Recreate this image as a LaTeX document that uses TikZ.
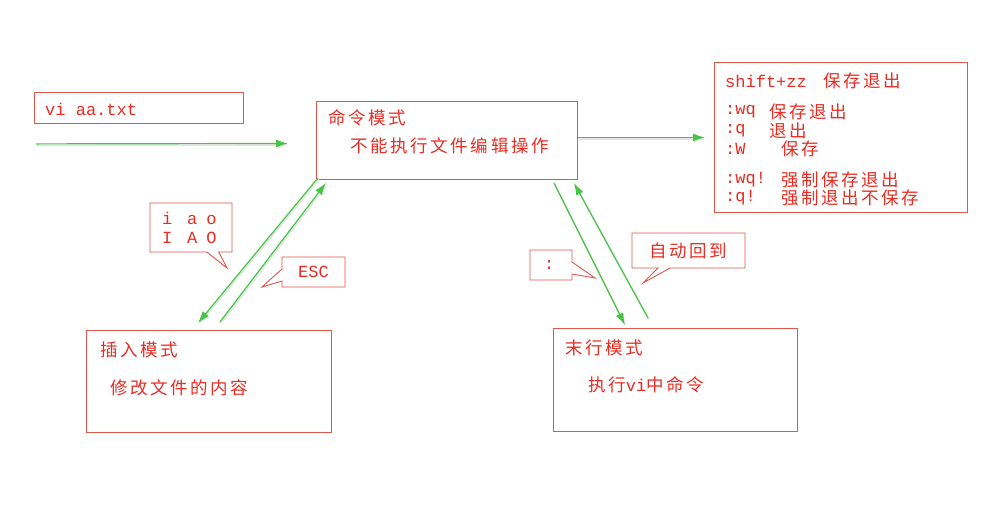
\documentclass[tikz,border=0pt]{standalone}
\usepackage{fontspec}
\setmainfont{Noto Sans CJK SC}[LetterSpace=15]
\setmonofont{Liberation Mono}
\usepackage{tikz}
\usetikzlibrary{arrows.meta,shapes.callouts}

\definecolor{boxred}{RGB}{226,86,76}
\definecolor{textred}{RGB}{232,44,34}
\definecolor{arrowgreen}{RGB}{70,196,70}

\tikzset{
  redbox/.style={draw=boxred,line width=0.9pt,inner sep=0pt,anchor=north west},
  cjk/.style={text=textred,inner sep=0pt,anchor=west,font=\fontsize{17.5}{20}\selectfont},
  code/.style={text=textred,inner sep=0pt,anchor=west,font=\fontsize{17}{19}\selectfont\ttfamily},
  bubble/.style={rectangle callout,draw=boxred,line width=0.9pt,fill=white,
    callout pointer width=12pt,text=textred},
  greenarrow/.style={draw=arrowgreen,line width=1.2pt,-{Latex[length=12pt,width=8pt]},
    preaction={draw=black!10,line width=1.6pt,transform canvas={shift={(1pt,-1.5pt)}}}}
}

\begin{document}
\begin{tikzpicture}[x=1pt,y=-1pt]

\useasboundingbox[fill=white] (0,0) rectangle (996,507);

% boxes
\node[redbox,minimum width=209pt,minimum height=31pt] (vibox) at (34,92) {};
\node[redbox,minimum width=261pt,minimum height=78pt] (cmd) at (316,101) {};
\node[redbox,minimum width=253pt,minimum height=150pt] (rules) at (714,62) {};
\node[redbox,minimum width=245pt,minimum height=102pt] (ins) at (86,330) {};
\node[redbox,minimum width=244pt,minimum height=103pt] (last) at (553,328) {};

\node[code] (vitxt) at ([shift={(11,1)}]vibox.west) {vi aa.txt};

\node[cjk] (cmdtitle) at ([shift={(12,17)}]cmd.north west) {命令模式};
\node[cjk] (cmdtext) at ([shift={(34,45)}]cmd.north west) {不能执行文件编辑操作};

\node[cjk] (institle) at ([shift={(14,20)}]ins.north west) {插入模式};
\node[cjk] (instext) at ([shift={(24,58)}]ins.north west) {修改文件的内容};

\node[cjk] (lasttitle) at ([shift={(12,20)}]last.north west) {末行模式};
\node[cjk] (lasttext) at ([shift={(35,57)}]last.north west) {执行{\ttfamily\fontsize{17}{19}\selectfont vi}中命令};

% save and quit commands
\node[code] (zz) at ([shift={(11,19)}]rules.north west) {shift+zz};
\node[cjk] (zztxt) at ([shift={(109,19)}]rules.north west) {保存退出};
\node[code] (wq) at ([shift={(11,50)}]rules.north west) {:wq};
\node[cjk] (wqtxt) at ([shift={(55,50)}]rules.north west) {保存退出};
\node[code] (q) at ([shift={(11,69)}]rules.north west) {:q};
\node[cjk] (qtxt) at ([shift={(55,69)}]rules.north west) {退出};
\node[code] (w) at ([shift={(11,87)}]rules.north west) {:W};
\node[cjk] (wtxt) at ([shift={(67,87)}]rules.north west) {保存};
\node[code] (wqf) at ([shift={(11,118)}]rules.north west) {:wq!};
\node[cjk] (wqftxt) at ([shift={(67,118)}]rules.north west) {强制保存退出};
\node[code] (qf) at ([shift={(11,136)}]rules.north west) {:q!};
\node[cjk] (qftxt) at ([shift={(67,136)}]rules.north west) {强制退出不保存};

% arrows
\coordinate (start) at ([shift={(2,20)}]vibox.south west);
\draw[greenarrow] (start) -- ([shift={(-28,3)}]cmd.west);
\draw[greenarrow] ([shift={(0,-3)}]cmd.east) -- ([xshift=-9pt]rules.west);

\draw[greenarrow] ([shift={(2,-2)}]cmd.south west) -- ([shift={(112,-7)}]ins.north west);
\draw[greenarrow] ([shift={(134,-8)}]ins.north west) -- ([shift={(10,3)}]cmd.south west);

\draw[greenarrow] ([shift={(-24,3)}]cmd.south east) -- ([shift={(72,-3)}]last.north west);
\draw[greenarrow] ([shift={(95,-10)}]last.north west) -- ([shift={(-4,3)}]cmd.south east);

% callouts
\node[bubble,code,anchor=center,align=left,text width=58pt,inner xsep=12pt,inner ysep=4pt,
  minimum height=49pt,callout absolute pointer={(227,268)}] (iao) at (191,227.5)
  {i\hspace{15pt}a\hspace{9pt}o\\I\hspace{15pt}A\hspace{9pt}O};
\node[bubble,code,anchor=center,minimum width=63pt,minimum height=30pt,
  callout absolute pointer={(262,287)}] (esc) at (313.5,272) {ESC};
\node[bubble,code,anchor=center,align=left,text width=14pt,inner xsep=14pt,minimum height=30pt,
  callout absolute pointer={(595,278)}] (colon) at (551,265) {:};
\node[bubble,cjk,anchor=center,minimum width=113pt,minimum height=35pt,
  callout absolute pointer={(643,283)}] (back) at (688.5,250.5) {自动回到};

\end{tikzpicture}
\end{document}
